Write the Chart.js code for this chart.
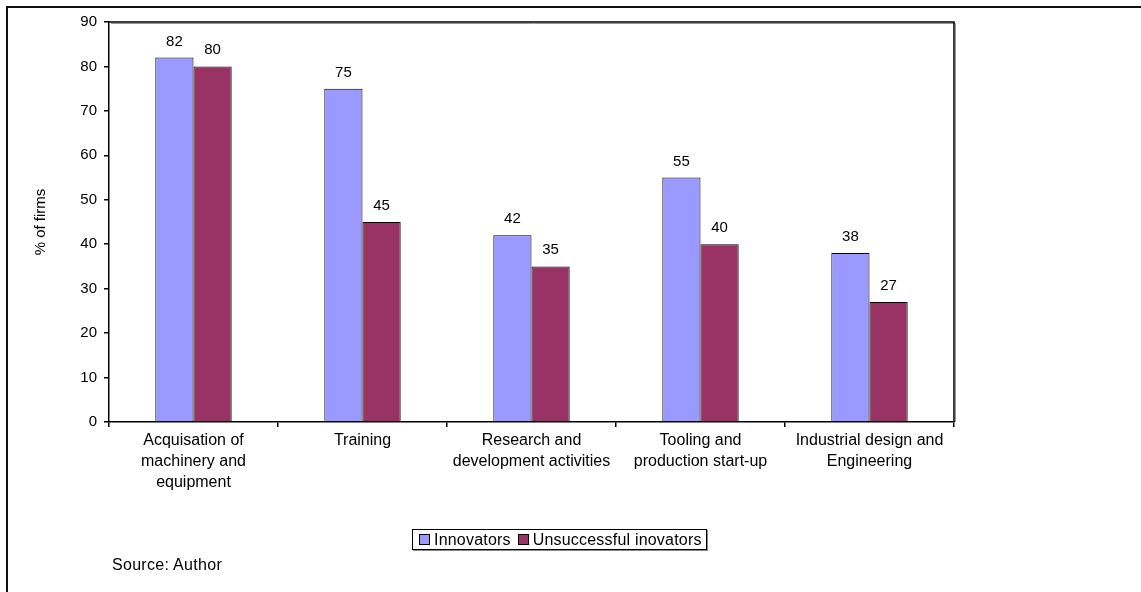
<!DOCTYPE html>
<html>
<head>
<meta charset="utf-8">
<script src="https://cdn.jsdelivr.net/npm/chart.js@4/dist/chart.umd.min.js"></script>
<style>
  body { margin: 0; background: #fff; font-family: "Liberation Sans", Arial, sans-serif; }
  #wrap { position: relative; width: 1141px; height: 592px; overflow: hidden; }
  #frame { position: absolute; left: 6px; top: 6px; width: 1200px; height: 700px;
           border-left: 2px solid #111; border-top: 2px solid #111; }
  #legend { position: absolute; left: 412px; top: 529px; width: 293px; height: 19px;
            border: 1px solid #000; box-shadow: 1px 1px 0 #888; background: #fff;
            display: flex; align-items: center; font-size: 16px; letter-spacing: 0.2px; color: #000; }
  #legend span.item { display: flex; align-items: center; margin-left: 6px; margin-right: 1px; }
  #legend span.sw { width: 9px; height: 9px; border: 1px solid #000; margin-right: 4px; }
  #source { position: absolute; left: 112px; top: 556px; font-size: 16px; letter-spacing: 0.3px; color: #000; }
</style>
</head>
<body>
<div id="wrap">
  <div id="frame"></div>
  <canvas id="myChart" width="1141" height="592" style="position:absolute;left:0;top:0"></canvas>
  <div id="legend"></div>
  <div id="source">Source: Author</div>
</div>
<script>
// categories (x axis), each label split in lines like the original
var categories = [
    ['Acquisation of', 'machinery and', 'equipment'],
    'Training',
    ['Research and', 'development activities'],
    ['Tooling and', 'production start-up'],
    ['Industrial design and', 'Engineering']
];
var innovators = [82, 75, 42, 55, 38];
var unsuccessful = [80, 45, 35, 40, 27];
var yTicks = [0, 10, 20, 30, 40, 50, 60, 70, 80, 90];

Chart.defaults.font.family = '"Liberation Sans", Arial, sans-serif';
Chart.defaults.font.size = 15;
Chart.defaults.color = '#000';

// numbers on top of the bars
var valueLabels = {
    id: 'valueLabels',
    afterDatasetsDraw: function (chart) {
        var ctx = chart.ctx;
        ctx.save();
        ctx.font = '15px "Liberation Sans", Arial, sans-serif';
        ctx.fillStyle = '#000';
        ctx.textAlign = 'center';
        ctx.textBaseline = 'alphabetic';
        chart.data.datasets.forEach(function (ds, i) {
            chart.getDatasetMeta(i).data.forEach(function (bar, j) {
                ctx.fillText(ds.data[j], bar.x, bar.y - 12);
            });
        });
        ctx.restore();
    }
};

// top and right edge of the plot area
var plotBorder = {
    id: 'plotBorder',
    afterDraw: function (chart) {
        var a = chart.chartArea, ctx = chart.ctx;
        ctx.save();
        ctx.strokeStyle = '#999';
        ctx.lineWidth = 1;
        ctx.beginPath();
        ctx.moveTo(a.left + 2, a.top + 1.5);
        ctx.lineTo(a.right + 1.5, a.top + 1.5);
        ctx.lineTo(a.right + 1.5, a.bottom);
        ctx.stroke();
        ctx.strokeStyle = '#000';
        ctx.lineWidth = 1.5;
        ctx.beginPath();
        ctx.moveTo(a.left, a.top);
        ctx.lineTo(a.right, a.top);
        ctx.lineTo(a.right, a.bottom);
        ctx.stroke();
        ctx.restore();
    }
};

var ctx = document.getElementById('myChart').getContext('2d');
var chart = new Chart(ctx, {
    type: 'bar',
    data: {
        labels: categories,
        datasets: [{
            label: 'Innovators',
            backgroundColor: '#9999FF',
            borderColor: '#000',
            borderWidth: 1,
            data: innovators
        }, {
            label: 'Unsuccessful inovators',
            backgroundColor: '#993366',
            borderColor: '#000',
            borderWidth: 1,
            data: unsuccessful
        }]
    },
    options: {
        responsive: false,
        animation: false,
        layout: { padding: { top: 22, right: 187, left: 0, bottom: 0 } },
        datasets: { bar: { categoryPercentage: 0.452, barPercentage: 1 } },
        plugins: { legend: { display: false }, tooltip: { enabled: false } },
        scales: {
            x: {
                grid: { drawOnChartArea: false, tickLength: 5, color: '#000', lineWidth: 1.5 },
                border: { color: '#000', width: 1.5 },
                ticks: { padding: 3, maxRotation: 0, autoSkip: false, font: { size: 16, lineHeight: 1.31 } },
                afterFit: function (scale) { scale.height = 170; }
            },
            y: {
                min: 0,
                max: 90,
                afterBuildTicks: function (scale) {
                    scale.ticks = yTicks.map(function (v) { return { value: v }; });
                },
                grid: { drawOnChartArea: false, tickLength: 5, color: '#000', lineWidth: 1.5 },
                border: { color: '#000', width: 1.5 },
                ticks: { padding: 7, font: { size: 15 } },
                title: { display: true, text: '% of firms', font: { size: 15 }, padding: { top: 32, bottom: 0 } },
                afterFit: function (scale) { scale.width = 109; }
            }
        }
    },
    plugins: [valueLabels, plotBorder]
});

// html legend built from the datasets
var legend = document.getElementById('legend');
chart.data.datasets.forEach(function (ds) {
    var item = document.createElement('span');
    item.className = 'item';
    var sw = document.createElement('span');
    sw.className = 'sw';
    sw.style.background = ds.backgroundColor;
    item.appendChild(sw);
    item.appendChild(document.createTextNode(ds.label));
    legend.appendChild(item);
});
</script>
</body>
</html>
